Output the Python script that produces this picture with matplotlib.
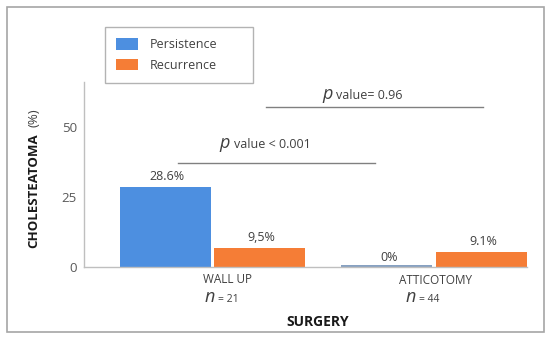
import matplotlib.pyplot as plt
from matplotlib.patches import Rectangle

plt.rcParams['font.family'] = ['Open Sans', 'DejaVu Sans']

# data
groups = ['WALL UP', 'ATTICOTOMY']
group_n = ['= 21', '= 44']
series = ['Persistence', 'Recurrence']
persistence = [28.6, 0.0]
recurrence = [6.8, 5.4]          # bars are drawn shorter than their labels
persistence_labels = ['28.6%', '0%']
recurrence_labels = ['9,5%', '9.1%']
yticks = [0, 25, 50]
p_texts = ['value < 0.001', 'value= 0.96']

blue = '#4D8FE0'
orange = '#F57D36'
grey_text = '#404040'
line_grey = '#808080'

fig = plt.figure(figsize=(5.5, 3.39), dpi=100)
fig.patches.append(Rectangle((7 / 550, 1 - 332 / 339), 537 / 550, 325 / 339,
                             transform=fig.transFigure, fill=False,
                             edgecolor='#a6a6a6', linewidth=1.2))

ax = fig.add_axes([84 / 550, 1 - 267 / 339, 443 / 550, 185 / 339])
x = list(range(len(groups)))
off = 0.212
w = 0.41
b1 = ax.bar([i - off for i in x], persistence, w, color=blue,
            linewidth=0, label=series[0])
b2 = ax.bar([i + off for i in x], recurrence, w, color=orange,
            linewidth=0, label=series[1])
# the 0% bar shows as a thin line on the baseline
for i, v in enumerate(persistence):
    if v == 0:
        ax.plot([i - off - w / 2, i - off + w / 2], [0.2, 0.2],
                color='#6f8fb5', linewidth=1.2, solid_capstyle='butt')

for rect, lab in zip(list(b1) + list(b2), persistence_labels + recurrence_labels):
    ax.annotate(lab, (rect.get_x() + rect.get_width() / 2 + 0.01, rect.get_height()),
                xytext=(0, 2.5), textcoords='offset points', ha='center',
                va='bottom', fontsize=9, color=grey_text)

ax.set_xlim(-0.577, 1.419)
ax.set_ylim(0, 66)
ax.set_yticks(yticks)
ax.set_xticks([])
ax.tick_params(axis='y', length=0, pad=5, labelsize=9.5, labelcolor='#595959')
for s in ['top', 'right']:
    ax.spines[s].set_visible(False)
for s in ['left', 'bottom']:
    ax.spines[s].set_color('#bfbfbf')
    ax.spines[s].set_linewidth(1.0)

# category labels with italic n
tr = ax.get_xaxis_transform()
cat_x = [0.068, 1.005]
cat_y = [-0.07, -0.072]
n_x = [0.014, 0.92]
for i, g in enumerate(groups):
    ax.text(cat_x[i], cat_y[i], g, transform=tr, ha='center', va='center',
            fontsize=8.5, color=grey_text)
    ax.text(n_x[i], -0.19, 'n', transform=tr, ha='right', va='baseline',
            fontsize=13, style='italic', color=grey_text)
    ax.text(n_x[i] + 0.012, -0.19, group_n[i], transform=tr, ha='left',
            va='baseline', fontsize=7.5, color=grey_text)

# significance lines
sig_lines = [(-0.153, 0.734, 37.1), (0.243, 1.221, 57.1)]
sig_text = [(0.088, 42.5), (0.55, 60.0)]
for (x0, x1, y), (tx, ty), t in zip(sig_lines, sig_text, p_texts):
    ax.plot([x0, x1], [y, y], color=line_grey, linewidth=1.0, clip_on=False)
    ax.annotate('p', (tx, ty), xytext=(-1, 0), textcoords='offset points',
                ha='right', va='baseline', fontsize=13, style='italic',
                color=grey_text, annotation_clip=False)
    ax.annotate(t, (tx, ty), xytext=(1.5, 0), textcoords='offset points',
                ha='left', va='baseline', fontsize=9, color=grey_text,
                annotation_clip=False)

# axis titles
fig.text(34 / 550, 1 - 191 / 339, 'CHOLESTEATOMA', rotation=90, ha='center',
         va='center', fontsize=9.5, fontweight='bold', color='#1a1a1a')
fig.text(34 / 550, 1 - 118 / 339, '(%)', rotation=90, ha='center',
         va='center', fontsize=9.5, color='#404040')
fig.text(318 / 550, 1 - 322 / 339, 'SURGERY', ha='center', va='center',
         fontsize=10, fontweight='bold', color='#1a1a1a')

leg = fig.legend(handles=[b1, b2], loc='upper left',
                 bbox_to_anchor=(105 / 550, 1 - 89 / 339, 148 / 550, 62 / 339),
                 mode='expand', fontsize=9, frameon=True, fancybox=False,
                 edgecolor='#a0a0a0', borderpad=0.9, handlelength=1.75,
                 handleheight=1.05, labelspacing=0.6, handletextpad=0.9,
                 borderaxespad=0)
leg.get_frame().set_linewidth(1.0)
for t in leg.get_texts():
    t.set_color(grey_text)

fig.savefig('out.png', dpi=100)
